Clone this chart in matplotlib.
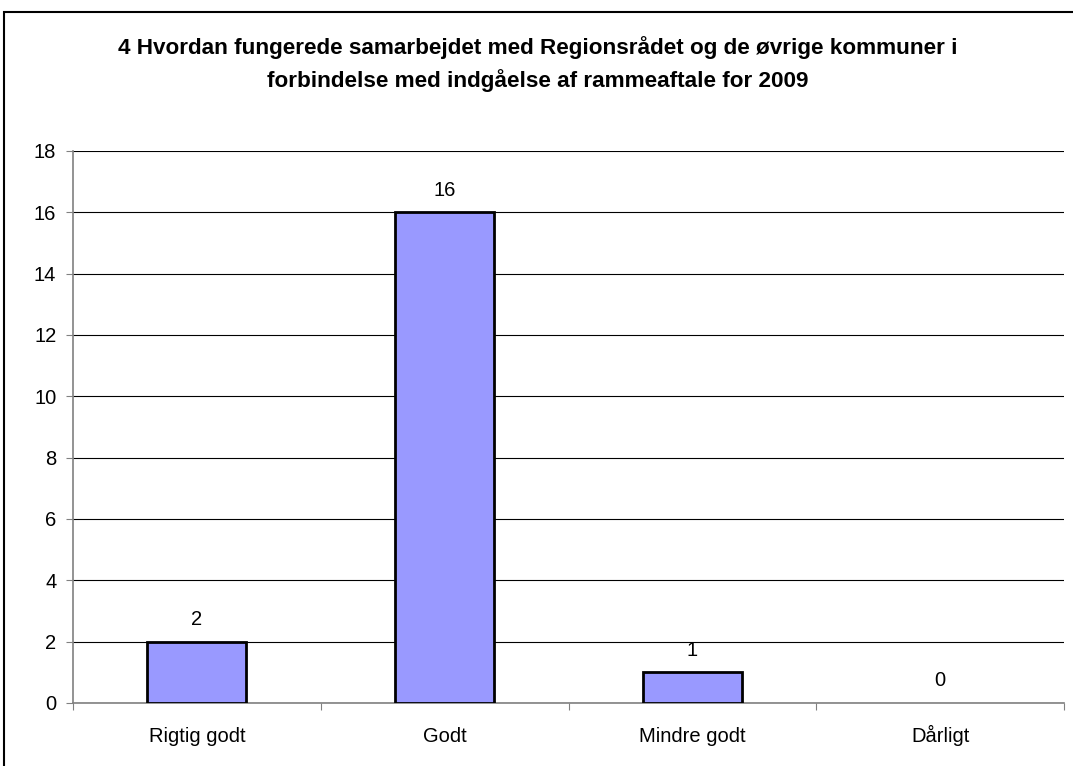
import matplotlib.pyplot as plt
from matplotlib.patches import Rectangle
from matplotlib.transforms import blended_transform_factory, offset_copy

# data
categories = ["Rigtig godt", "Godt", "Mindre godt", "Dårligt"]
values = [2, 16, 1, 0]
title = ("4 Hvordan fungerede samarbejdet med Regionsrådet og de øvrige kommuner i\n"
         "forbindelse med indgåelse af rammeaftale for 2009")

plt.rcParams["font.family"] = ["Liberation Sans", "DejaVu Sans"]

fig = plt.figure(figsize=(10.73, 7.66), dpi=100)

# outer chart border (cut at right/bottom like the screenshot)
fig.patches.append(Rectangle((4 / 1073, -0.05), 1.2, 1.05 - 12 / 766, transform=fig.transFigure,
                             fill=False, edgecolor="black", linewidth=1.5))

ax = fig.add_axes([73 / 1073, 1 - 703 / 766, (1064 - 73) / 1073, (703 - 151) / 766])

x = list(range(len(categories)))
edge_w = [2 if v > 0 else 0 for v in values]
ax.bar(x, values, width=0.4, color="#9999FF", edgecolor="black", linewidth=edge_w, zorder=3)
for xi, v in zip(x, values):
    ax.annotate(str(v), (xi, v), xytext=(0, 9), textcoords="offset points",
                ha="center", va="bottom", fontsize=14.5)

ax.set_xlim(-0.5, len(categories) - 0.5)
ax.set_ylim(0, 18)
ax.set_yticks(range(0, 19, 2))
ax.yaxis.grid(True, color="black", linewidth=0.8)
ax.set_axisbelow(True)

# ticks on category boundaries, labels on baseline below each bar
ax.set_xticks([i - 0.5 for i in range(len(categories) + 1)])
ax.set_xticklabels([])
ax.tick_params(axis="x", length=5, direction="out", color="#808080")
ax.tick_params(axis="y", length=5, direction="out", color="#808080", labelsize=14.5, pad=7)
lab_tr = offset_copy(blended_transform_factory(ax.transData, ax.transAxes),
                     fig=fig, x=0, y=-39, units="dots")
for xi, name in zip(x, categories):
    ax.text(xi, 0, name, transform=lab_tr, ha="center", va="baseline", fontsize=14.5)

for side in ["top", "right"]:
    ax.spines[side].set_visible(False)
for side in ["left", "bottom"]:
    ax.spines[side].set_color("#808080")
    ax.spines[side].set_linewidth(1.2)

fig.text(538 / 1073, 1 - 64 / 766, title, ha="center", va="center", fontsize=16.2,
         fontweight="bold", linespacing=1.52)

fig.savefig("out.png", dpi=100)
